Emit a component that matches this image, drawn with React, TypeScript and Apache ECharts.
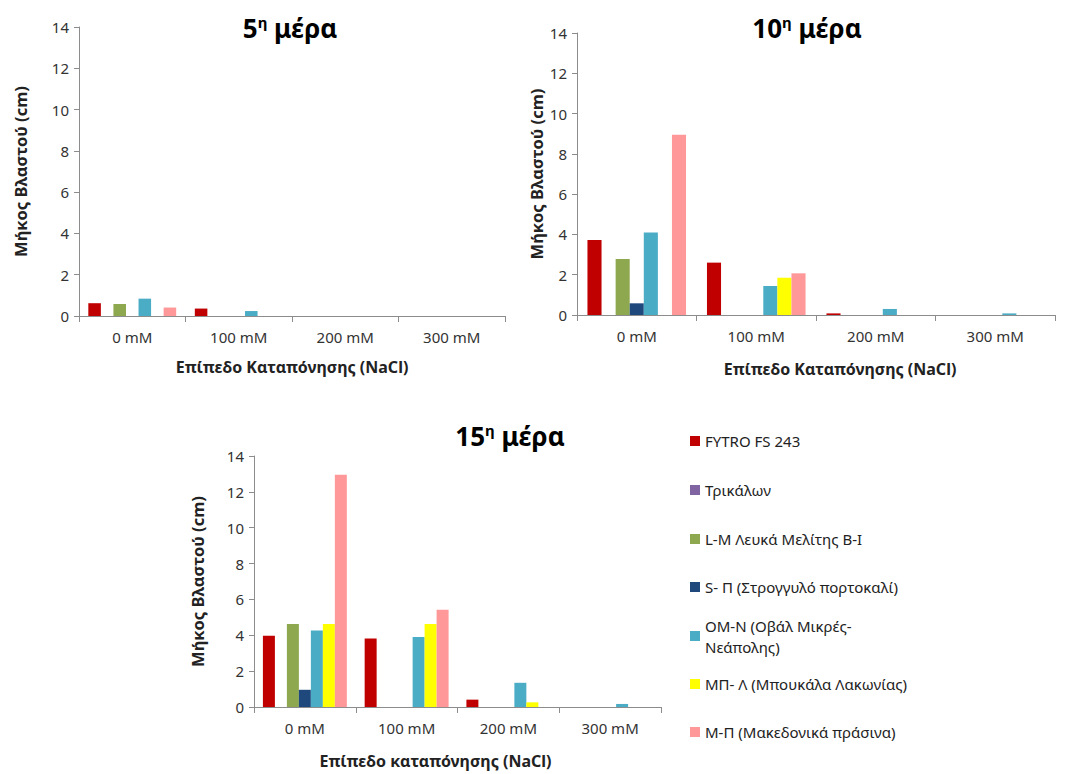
import React, { useEffect, useRef } from "react";
import * as echarts from "echarts";

const categories = ["0 mM", "100 mM", "200 mM", "300 mM"];
const seriesNames = [
  "FYTRO FS 243",
  "Τρικάλων",
  "L-M Λευκά Μελίτης Β-Ι",
  "S- Π (Στρογγυλό πορτοκαλί)",
  "ΟΜ-Ν (Οβάλ Μικρές-\nΝεάπολης)",
  "ΜΠ- Λ (Μπουκάλα Λακωνίας)",
  "Μ-Π (Μακεδονικά πράσινα)",
];
const seriesColors = ["#C00000", "#8064A2", "#8DA84E", "#1F497D", "#4BACC6", "#FFFF00", "#FF9999"];
const yTicks = [0, 2, 4, 6, 8, 10, 12, 14];

// Day 5
const d5Fytro = [0.62, 0.36, 0, 0];
const d5Trikalon = [0, 0, 0, 0];
const d5LM = [0.58, 0, 0, 0];
const d5SP = [0, 0, 0, 0];
const d5OMN = [0.84, 0.24, 0, 0];
const d5MPL = [0, 0, 0, 0];
const d5MP = [0.41, 0, 0, 0];

// Day 10
const d10Fytro = [3.72, 2.6, 0.08, 0];
const d10Trikalon = [0, 0, 0, 0];
const d10LM = [2.78, 0, 0, 0];
const d10SP = [0.58, 0, 0, 0];
const d10OMN = [4.09, 1.44, 0.3, 0.08];
const d10MPL = [0, 1.85, 0, 0];
const d10MP = [8.95, 2.07, 0, 0];

// Day 15
const d15Fytro = [3.97, 3.82, 0.41, 0];
const d15Trikalon = [0, 0, 0, 0];
const d15LM = [4.63, 0, 0, 0];
const d15SP = [0.96, 0, 0, 0];
const d15OMN = [4.27, 3.9, 1.35, 0.17];
const d15MPL = [4.63, 4.63, 0.26, 0];
const d15MP = [12.95, 5.42, 0, 0];

const dayData = [
  [d5Fytro, d5Trikalon, d5LM, d5SP, d5OMN, d5MPL, d5MP],
  [d10Fytro, d10Trikalon, d10LM, d10SP, d10OMN, d10MPL, d10MP],
  [d15Fytro, d15Trikalon, d15LM, d15SP, d15OMN, d15MPL, d15MP],
];
const dayTitles = ["5", "10", "15"];
const xAxisNames = ["Επίπεδο Καταπόνησης (NaCl)", "Επίπεδο Καταπόνησης (NaCl)", "Επίπεδο καταπόνησης (NaCl)"];
const yAxisName = "Μήκος Βλαστού (cm)";

const FONT = "'Noto Sans', 'DejaVu Sans', sans-serif";

export default function App() {
  const ref = useRef<HTMLDivElement>(null);
  useEffect(() => {
    if (!ref.current) return;
    const chart = echarts.init(ref.current, null, { renderer: "svg" });

    const grids = [
      { left: 79, top: 27, width: 426, height: 289 },
      { left: 577, top: 33, width: 478, height: 282 },
      { left: 254, top: 456, width: 407, height: 251 },
    ];
    const yNameGaps = [50, 32, 48];
    const xNameGaps = [43, 46, 46];
    const xNamePads = [
      [0, 0, 0, 0],
      [0, 0, 0, 48],
      [0, 44, 0, 0],
    ];
    const titlePos = [
      { x: 290, y: 14 },
      { x: 807, y: 14 },
      { x: 510, y: 422 },
    ];

    const titles = dayTitles.map((d, i) => ({
      text: `{n|${d}}{s|η}{n| μέρα}`,
      left: titlePos[i].x,
      top: titlePos[i].y,
      textAlign: "center",
      padding: 0,
      textStyle: {
        rich: {
          n: { fontSize: 26, fontWeight: "bold", fontFamily: FONT, color: "#000", verticalAlign: "bottom" },
          s: { fontSize: 15, fontWeight: "bold", fontFamily: FONT, color: "#000", verticalAlign: "top", padding: [0, 0, 12, 0] },
        },
      },
    }));

    const xAxes = grids.map((_, i) => ({
      type: "category",
      gridIndex: i,
      data: categories,
      name: xAxisNames[i],
      nameLocation: "middle",
      nameGap: xNameGaps[i],
      nameTextStyle: { fontSize: 16, fontWeight: "bold", fontFamily: FONT, color: "#222", padding: xNamePads[i] },
      axisLine: { lineStyle: { color: "#8C8C8C", width: 1 } },
      axisTick: { show: true, length: 6, lineStyle: { color: "#8C8C8C" } },
      axisLabel: { fontSize: 15, fontFamily: FONT, color: "#333", margin: 13 },
      splitLine: { show: false },
    }));

    const yAxes = grids.map((_, i) => ({
      type: "value",
      gridIndex: i,
      min: yTicks[0],
      max: yTicks[yTicks.length - 1],
      interval: 2,
      name: yAxisName,
      nameLocation: "middle",
      nameRotate: 90,
      nameGap: yNameGaps[i],
      nameTextStyle: { fontSize: 16.5, fontWeight: "bold", fontFamily: FONT, color: "#222" },
      axisLine: { show: true, lineStyle: { color: "#8C8C8C", width: 1 } },
      axisTick: { show: true, length: 5, lineStyle: { color: "#8C8C8C" } },
      axisLabel: { fontSize: 15, fontFamily: FONT, color: "#333", margin: 10 },
      splitLine: { show: false },
    }));

    const series: any[] = [];
    dayData.forEach((arrs, gi) => {
      arrs.forEach((vals, si) => {
        series.push({
          type: "bar",
          name: seriesNames[si],
          xAxisIndex: gi,
          yAxisIndex: gi,
          data: vals,
          barGap: "0%",
          barCategoryGap: "17.5%",
          itemStyle: { color: seriesColors[si] },
          emphasis: { disabled: true },
        });
      });
    });

    const legendCenters = [441, 490, 539, 587, 636, 684, 732];
    const legends = seriesNames.map((name, i) => {
      const multi = name.includes("\n");
      return {
        data: [name],
        orient: "vertical",
        left: 690,
        top: multi ? legendCenters[i] - 31.5 : legendCenters[i] - 10.5,
        padding: 0,
        itemWidth: 10,
        itemHeight: 10,
        itemGap: 0,
        selectedMode: false,
        icon: "rect",
        textStyle: multi
          ? { fontSize: 15, fontFamily: FONT, color: "#222", lineHeight: 21, padding: [21, 0, 0, 0] }
          : { fontSize: 15, fontFamily: FONT, color: "#222", lineHeight: 21 },
      };
    });

    chart.setOption({
      animation: false,
      backgroundColor: "#fff",
      title: titles,
      grid: grids,
      xAxis: xAxes,
      yAxis: yAxes,
      legend: legends,
      series,
    });
    return () => chart.dispose();
  }, []);

  return (
    <div
      ref={ref}
      style={{ position: "fixed", left: 0, top: 0, width: 1078, height: 774, background: "#fff" }}
    />
  );
}
